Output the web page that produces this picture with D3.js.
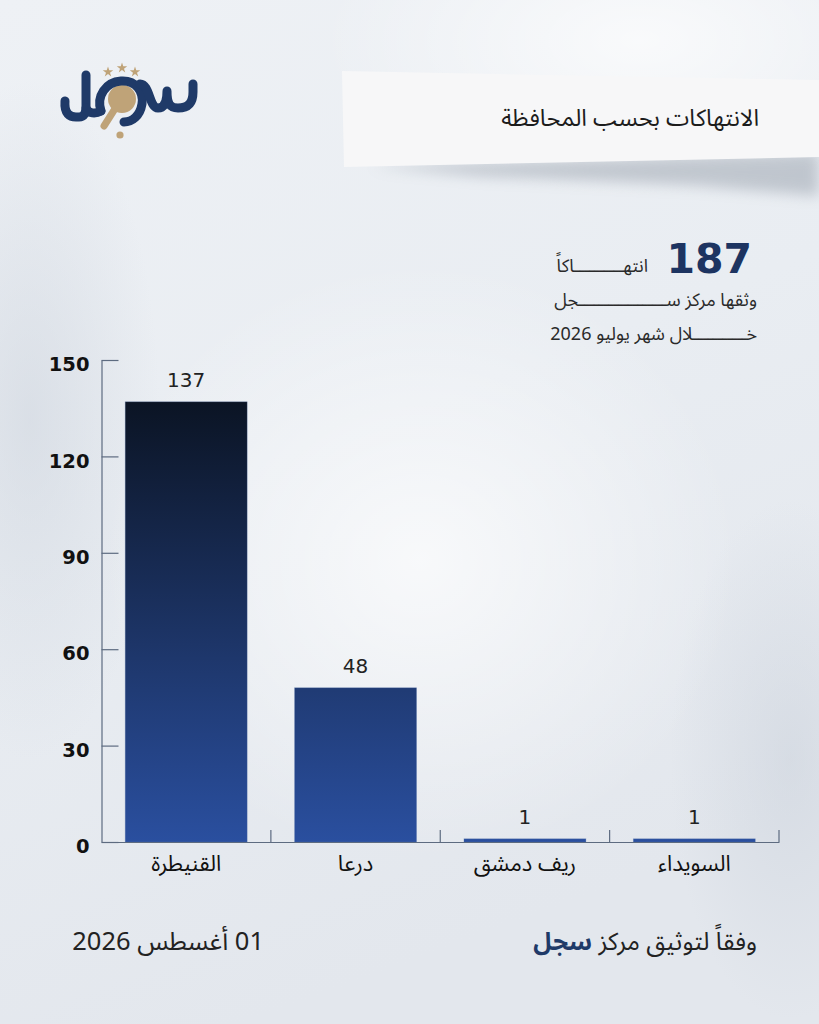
<!DOCTYPE html>
<html lang="ar">
<head>
<meta charset="utf-8">
<script src="https://cdn.jsdelivr.net/npm/d3@7"></script>
<style>
  html, body { margin: 0; padding: 0; background: #e9edf2; }
  svg { display: block; }
  .ar { font-family: "Noto Sans Arabic", "Noto Sans", "DejaVu Sans", sans-serif; }
</style>
</head>
<body>
<svg id="chart" width="819" height="1024"></svg>
<script>
// ---- data ----
const categories = ["القنيطرة", "درعا", "ريف دمشق", "السويداء"];
const values = [137, 48, 1, 1];
const yTicks = [0, 30, 60, 90, 120, 150];
const titleText = "الانتهاكات بحسب المحافظة";
const totalValue = 187;
const totalLabel = "انتهــــــــــاكاً";
const subLine1 = "وثقها مركز ســــــــــــــــــجل";
const subLine2 = "خـــــــــــلال شهر يوليو 2026";
const footerDate = "01 أغسطس 2026";
const footerSourcePrefix = "وفقاً لتوثيق مركز ";
const footerSourceName = "سجل";

const svg = d3.select("#chart");
const W = 819, H = 1024;
const navy = "#1f3a68";
const gold = "#bfa378";
const numFont = "'DejaVu Sans', 'Open Sans', sans-serif";

const defs = svg.append("defs");
const bg = defs.append("linearGradient").attr("id", "bg").attr("x1", 0).attr("y1", 0).attr("x2", 0.3).attr("y2", 1);
bg.append("stop").attr("offset", 0).attr("stop-color", "#eef1f5");
bg.append("stop").attr("offset", 0.5).attr("stop-color", "#e9edf2");
bg.append("stop").attr("offset", 1).attr("stop-color", "#e3e7ed");
const hl = defs.append("radialGradient").attr("id", "hl");
hl.append("stop").attr("offset", 0).attr("stop-color", "#ffffff").attr("stop-opacity", 0.7);
hl.append("stop").attr("offset", 1).attr("stop-color", "#ffffff").attr("stop-opacity", 0);
const dk = defs.append("radialGradient").attr("id", "dk");
dk.append("stop").attr("offset", 0).attr("stop-color", "#c9d0da").attr("stop-opacity", 0.5);
dk.append("stop").attr("offset", 1).attr("stop-color", "#c9d0da").attr("stop-opacity", 0);
defs.append("filter").attr("id", "blur").attr("x", "-20%").attr("y", "-50%").attr("width", "140%").attr("height", "200%")
  .append("feGaussianBlur").attr("stdDeviation", 7);

svg.append("rect").attr("width", W).attr("height", H).attr("fill", "url(#bg)");
svg.append("ellipse").attr("cx", 640).attr("cy", 40).attr("rx", 320).attr("ry", 160).attr("fill", "url(#hl)");
svg.append("ellipse").attr("cx", 420).attr("cy", 560).attr("rx", 320).attr("ry", 300).attr("fill", "url(#hl)");
svg.append("ellipse").attr("cx", 30).attr("cy", 420).attr("rx", 130).attr("ry", 340).attr("fill", "url(#dk)");
svg.append("ellipse").attr("cx", 790).attr("cy", 760).attr("rx", 120).attr("ry", 260).attr("fill", "url(#dk)");

// ---- title ribbon ----
svg.append("path")
  .attr("d", "M370,166 L819,152 L819,196 L700,186 L480,176 Z")
  .attr("fill", "#8d96a3").attr("opacity", 0.45).attr("filter", "url(#blur)");
svg.append("path")
  .attr("d", "M342,71 L819,80 L819,157 L344,167 Z")
  .attr("fill", "#f7f7f8");
svg.append("text").attr("class", "ar")
  .attr("x", 759).attr("y", 126)
  .attr("direction", "rtl").style("unicode-bidi", "embed")
  .attr("text-anchor", "start")
  .attr("font-size", 23.5).attr("fill", "#1c1c1c")
  .text(titleText);

// ---- logo ----
const logo = svg.append("g");
const star = d3.symbol().type(d3.symbolStar).size(34);
[[108, 72], [122, 68], [135, 72]].forEach(p => {
  logo.append("path").attr("d", star()).attr("transform", `translate(${p[0]},${p[1]})`).attr("fill", gold);
});
logo.append("line").attr("x1", 118).attr("y1", 104).attr("x2", 104).attr("y2", 126)
  .attr("stroke", gold).attr("stroke-width", 7).attr("stroke-linecap", "round");
logo.append("circle").attr("cx", 122).attr("cy", 99).attr("r", 14).attr("fill", gold);
logo.append("circle").attr("cx", 120).attr("cy", 135).attr("r", 3.6).attr("fill", gold);
const navyStroke = { stroke: navy, "stroke-width": 9, fill: "none", "stroke-linecap": "round", "stroke-linejoin": "round" };
function np(d) {
  const p = logo.append("path").attr("d", d);
  Object.entries(navyStroke).forEach(([k, v]) => p.attr(k, v));
}
np("M65,101 C64,114 70,117 76,117 L79,117 C84,117 86,113 86,107 L86,75");
np("M86,108 C88,114 96,114 101,111");
np("M101,111 C96,96 106,82 121,81 C136,80 144,92 142,104 C140,116 132,122 124,122");
np("M140,84 C150,84 149,108 158,108 C165,108 167,100 167,91 C167,104 170,108 178,108 C189,108 193,102 193,92 L193,84");

// ---- headline stats ----
svg.append("text")
  .attr("x", 752).attr("y", 273)
  .attr("text-anchor", "end")
  .attr("font-family", numFont)
  .attr("font-weight", 700).attr("font-size", 41).attr("fill", "#1d3461")
  .text(totalValue);
const statLines = [
  { t: totalLabel, x: 648, y: 272 },
  { t: subLine1, x: 757, y: 306 },
  { t: subLine2, x: 757, y: 340 }
];
const statBlock = svg.append("text").attr("class", "ar")
  .attr("direction", "rtl").style("unicode-bidi", "embed").attr("text-anchor", "start")
  .attr("font-size", 18).attr("fill", "#2a2a2a");
statBlock.selectAll("tspan").data(statLines).join("tspan")
  .attr("x", d => d.x).attr("y", d => d.y)
  .text(d => d.t);

// ---- chart ----
const x0 = 101.5, x1 = 779, yBase = 842, yTop = 360;
const x = d3.scaleBand().domain(categories).range([x0, x1]).paddingInner(0.28).paddingOuter(0.14);
const y = d3.scaleLinear().domain([0, 150]).range([yBase, yTop]);

const barGrad = defs.append("linearGradient").attr("id", "barGrad")
  .attr("gradientUnits", "userSpaceOnUse")
  .attr("x1", 0).attr("y1", y(137)).attr("x2", 0).attr("y2", y(0));
barGrad.append("stop").attr("offset", 0).attr("stop-color", "#0b1424");
barGrad.append("stop").attr("offset", 0.55).attr("stop-color", "#1d3568");
barGrad.append("stop").attr("offset", 1).attr("stop-color", "#2a4f9f");

const data = categories.map((c, i) => ({ c, v: values[i] }));

svg.append("g").selectAll("rect").data(data).join("rect")
  .attr("x", d => x(d.c))
  .attr("y", d => y(d.v))
  .attr("width", x.bandwidth())
  .attr("height", d => y(0) - y(d.v))
  .attr("fill", "url(#barGrad)")
  .attr("stroke", "#5a76a8").attr("stroke-opacity", 0.35).attr("stroke-width", 0.8);

svg.append("g").selectAll("text").data(data).join("text")
  .attr("x", d => x(d.c) + x.bandwidth() / 2)
  .attr("y", d => y(d.v) - 15)
  .attr("text-anchor", "middle")
  .attr("font-family", numFont)
  .attr("font-size", 20).attr("fill", "#222")
  .text(d => d.v);

// y axis
const yAxis = d3.axisLeft(y).tickValues(yTicks).tickSizeInner(-17).tickSizeOuter(0).tickPadding(12);
const gy = svg.append("g").attr("transform", `translate(${x0},0)`).call(yAxis);
gy.select(".domain").attr("stroke", "#5d6b80").attr("stroke-width", 1.2);
gy.selectAll(".tick line").attr("stroke", "#5d6b80").attr("stroke-width", 1.2);
gy.selectAll(".tick text")
  .attr("font-family", numFont)
  .attr("font-weight", 700).attr("font-size", 19.5).attr("fill", "#111")
  .attr("dy", "0.55em");

// x axis
const xAxis = d3.axisBottom(x).tickSize(0).tickPadding(13);
const gx = svg.append("g").attr("transform", `translate(0,${yBase})`).call(xAxis);
gx.select(".domain").attr("stroke", "#5d6b80").attr("stroke-width", 1.2);
gx.selectAll(".tick text")
  .attr("class", "ar")
  .attr("font-size", 22).attr("fill", "#111")
  .style("font-family", "'Noto Sans Arabic', 'Noto Sans', 'DejaVu Sans', sans-serif");
const gap = (x.step() - x.bandwidth()) / 2;
svg.append("g").selectAll("line").data(categories).join("line")
  .attr("x1", d => x(d) + x.bandwidth() + gap)
  .attr("x2", d => x(d) + x.bandwidth() + gap)
  .attr("y1", yBase).attr("y2", yBase - 12)
  .attr("stroke", "#5d6b80").attr("stroke-width", 1.2);

// ---- footer ----
svg.append("text").attr("class", "ar")
  .attr("x", 264).attr("y", 950)
  .attr("direction", "rtl").style("unicode-bidi", "embed").attr("text-anchor", "start")
  .attr("font-size", 25.5).attr("fill", "#222")
  .text(footerDate);
const src = svg.append("text").attr("class", "ar")
  .attr("x", 757).attr("y", 950)
  .attr("direction", "rtl").style("unicode-bidi", "embed").attr("text-anchor", "start")
  .attr("font-size", 24.5).attr("fill", "#222");
src.append("tspan").text(footerSourcePrefix);
src.append("tspan").attr("font-weight", 700).attr("fill", navy).text(footerSourceName);
</script>
</body>
</html>
